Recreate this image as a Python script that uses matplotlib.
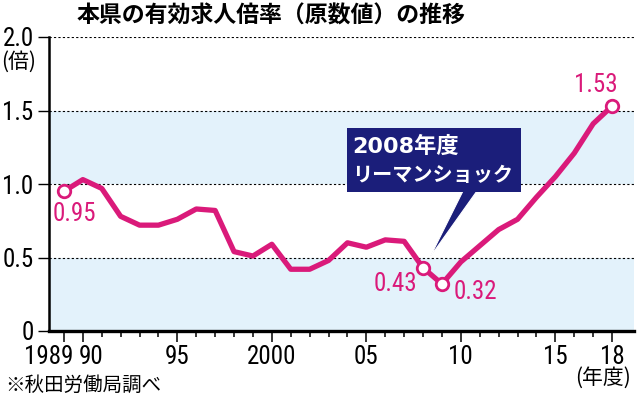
import matplotlib
matplotlib.use("Agg")
import matplotlib.pyplot as plt
import matplotlib.transforms as mtrans
from matplotlib import font_manager
from matplotlib.patches import Rectangle, Polygon

# データ（秋田労働局調べ、年度）
years = list(range(1989, 2019))
ratios = [0.95, 1.03, 0.97, 0.78, 0.72, 0.72, 0.76, 0.83, 0.82, 0.54,
          0.51, 0.59, 0.42, 0.42, 0.48, 0.60, 0.57, 0.62, 0.61, 0.43,
          0.32, 0.47, 0.58, 0.69, 0.76, 0.91, 1.05, 1.21, 1.41, 1.53]
marked_years = [1989, 2008, 2009, 2018]
marked_labels = ["0.95", "0.43", "0.32", "1.53"]
x_tick_years = [1989, 1990, 1995, 2000, 2005, 2010, 2015, 2018]
x_tick_labels = ["1989", "90", "95", "2000", "05", "10", "15", "18"]
y_ticks = [0, 0.5, 1.0, 1.5, 2.0]
y_tick_labels = ["0", "0.5", "1.0", "1.5", "2.0"]

LINE = "#DA1A7A"
BAND = "#E3F2FB"
NAVY = "#1B1E7A"


def pick_font(*names):
    avail = {f.name for f in font_manager.fontManager.ttflist}
    for n in names:
        if n in avail:
            return n
    return None


# 細めの数字フォントがあれば使う
narrow = pick_font("Liberation Sans Narrow", "Roboto Condensed",
                   "Noto Sans Condensed", "DejaVu Sans Condensed")
if narrow:
    num_font, tick_size, note_size = narrow, 18, 18
else:
    num_font, tick_size, note_size = "Liberation Sans", 15, 16

jp_font = "Noto Sans CJK JP"
plt.rcParams["font.family"] = [jp_font, "DejaVu Sans"]

fig = plt.figure(figsize=(6.4, 4.0), dpi=100)
ax = fig.add_axes([49 / 640, 69 / 400, 585 / 640, 294 / 400])

# 背景の帯
ax.axhspan(0, 0.5, color=BAND, zorder=0, lw=0)
ax.axhspan(1.0, 1.5, color=BAND, zorder=0, lw=0)

# 点線のグリッド
for yv in y_ticks[1:]:
    ax.axhline(yv, color="black", lw=0.8, ls=(0, (2, 2)), zorder=1)

ax.plot(years, ratios, color=LINE, lw=3.8, solid_joinstyle="round",
        solid_capstyle="round", zorder=3)

mark_vals = [ratios[years.index(y)] for y in marked_years]
ax.plot(marked_years, mark_vals, ls="none", marker="o", ms=9,
        mfc="white", mec=LINE, mew=2, zorder=4, clip_on=False)

offsets = [(11, -23), (-28, -16), (33, -8), (-16, 21)]
for yr, val, lab, off in zip(marked_years, mark_vals, marked_labels, offsets):
    ax.annotate(lab, (yr, val), xytext=off, textcoords="offset pixels",
                ha="center", va="center", color=LINE, fontsize=note_size,
                family=num_font, zorder=5, annotation_clip=False)

ax.set_xlim(1988.21, 2019.16)
ax.set_ylim(0, 2.0)

ax.set_xticks(x_tick_years)
ax.set_xticklabels(x_tick_labels, family=num_font, fontsize=tick_size)
ax.set_xticks(years, minor=True)
ax.tick_params(axis="x", which="major", length=8, width=1.1, pad=2,
               direction="out")
ax.tick_params(axis="x", which="minor", length=4, width=1.1,
               direction="out")

ax.set_yticks(y_ticks)
ax.set_yticklabels(y_tick_labels, family=num_font, fontsize=tick_size)
ax.tick_params(axis="y", length=8, width=1.0, pad=3)

# 1989 と 90 のラベルを左右へずらす
shift = {"1989": -15.5, "90": 8}
for lbl in ax.get_xticklabels():
    dx = shift.get(lbl.get_text())
    if dx:
        lbl.set_transform(lbl.get_transform() +
                          mtrans.ScaledTranslation(dx / 100, 0, fig.dpi_scale_trans))

for side in ["top", "right"]:
    ax.spines[side].set_visible(False)
ax.spines["left"].set_linewidth(1.8)
ax.spines["bottom"].set_linewidth(2.4)
ax.set_facecolor("white")

# リーマンショックの吹き出し
ax.add_patch(Polygon([(2010.11, 0.952), (2010.85, 0.952), (2008.37, 0.503)],
                     closed=True, facecolor=NAVY, edgecolor="white",
                     lw=0.8, zorder=6))
ax.add_patch(Rectangle((2003.97, 0.946), 9.21, 0.435, facecolor=NAVY,
                       edgecolor="none", zorder=6))
ax.text(2004.25, 1.254, "2008年度", color="white", fontsize=16,
        fontweight="bold", family=["DejaVu Sans", jp_font],
        ha="left", va="center", zorder=7)
ax.text(2004.25, 1.068, "リーマンショック", color="white", fontsize=14.5,
        fontweight="bold", ha="left", va="center", zorder=7)

fig.text(77 / 640, 1 - 16.5 / 400, "本県の有効求人倍率（原数値）の推移",
         fontsize=16.5, fontweight="bold", ha="left", va="center")
fig.text(19 / 640, 1 - 62 / 400, "(倍)", fontsize=15, ha="center", va="center")
fig.text(603 / 640, 1 - 378 / 400, "(年度)", fontsize=15, ha="center",
         va="center")
fig.text(5 / 640, 1 - 385 / 400, "※秋田労働局調べ", fontsize=14,
         ha="left", va="center")

fig.savefig("out.png", dpi=100, facecolor="white")
